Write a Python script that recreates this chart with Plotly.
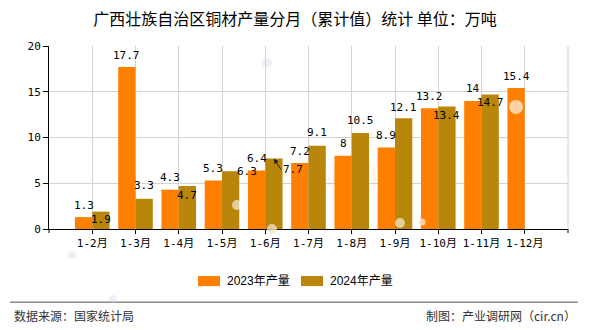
import plotly.graph_objects as go

# Cumulative monthly copper output, Guangxi (10k tonnes)
months = ["1-2月", "1-3月", "1-4月", "1-5月", "1-6月", "1-7月",
          "1-8月", "1-9月", "1-10月", "1-11月", "1-12月"]
output_2023 = [1.3, 17.7, 4.3, 5.3, 6.4, 7.2, 8, 8.9, 13.2, 14, 15.4]
output_2024 = [1.9, 3.3, 4.7, 6.3, 7.7, 9.1, 10.5, 12.1, 13.4, 14.7, None]
y_ticks = [0, 5, 10, 15, 20]

C23 = "#FF8000"
C24 = "#B8860B"
NUM_FONT = dict(family="DejaVu Sans Mono, Noto Sans CJK SC", size=11, color="#000")
CJK = "Noto Sans CJK SC"

fig = go.Figure()
fig.add_bar(x=months, y=output_2023, name="2023年产量", marker_color=C23,
            marker_line_width=0, hoverinfo="skip")
fig.add_bar(x=months, y=output_2024, name="2024年产量", marker_color=C24,
            marker_line_width=0, hoverinfo="skip")

annotations = []
# value labels: 2023 sits above its bar
for i, v in enumerate(output_2023):
    annotations.append(dict(x=i - 0.2, y=v, xref="x", yref="y", text=f"{v:g}",
                            showarrow=False, yanchor="middle", yshift=12,
                            font=NUM_FONT))
# 2024 labels are nudged to avoid collisions with neighbouring labels
shift_2024 = {0: (0, -8), 1: (0, 13), 2: (0, -9), 3: (16, 0),
              5: (0, 13), 6: (0, 12), 7: (0, 11), 8: (0, -9), 9: (0, -8)}
for i, v in enumerate(output_2024):
    if v is None:
        continue
    if i == 4:
        # crowded slot: label pulled aside with a leader arrow
        annotations.append(dict(x=i + 0.2, y=v, xref="x", yref="y", text=f"{v:g}",
                                showarrow=True, ax=7, ay=11, arrowhead=2,
                                arrowsize=1, arrowwidth=1, arrowcolor="#222",
                                standoff=0, xanchor="left", font=NUM_FONT))
        continue
    dx, dy = shift_2024[i]
    annotations.append(dict(x=i + 0.2, y=v, xref="x", yref="y", text=f"{v:g}",
                            showarrow=False, yanchor="middle", xshift=dx, yshift=dy,
                            font=NUM_FONT))

# faint site watermark
annotations.append(dict(x=0.672, y=0.19, xref="paper", yref="paper", text="产业调研网",
                        showarrow=False, font=dict(family=CJK, size=24,
                                                   color="rgba(255,120,0,0.10)")))

# legend drawn by hand
leg_y0, leg_y1 = -0.257, -0.312
shapes = [
    dict(type="rect", xref="paper", yref="paper", x0=0.287, x1=0.3295,
         y0=leg_y1, y1=leg_y0, fillcolor=C23, line_width=0),
    dict(type="rect", xref="paper", yref="paper", x0=0.4855, x1=0.528,
         y0=leg_y1, y1=leg_y0, fillcolor=C24, line_width=0),
]
for xp, label in [(0.339, "2023年产量"), (0.5376, "2024年产量")]:
    annotations.append(dict(x=xp, y=-0.284, xref="paper", yref="paper", text=label,
                            showarrow=False, xanchor="left", yanchor="middle",
                            font=dict(family="Liberation Sans, " + CJK, size=12,
                                      color="#000")))

# right border gridline and end ticks on the category axis
shapes.append(dict(type="line", xref="paper", yref="paper", x0=1, x1=1, y0=0, y1=1,
                   line=dict(color="#d3d3d3", width=1), layer="below"))
for xp in (0, 1):
    shapes.append(dict(type="line", xref="paper", yref="paper", x0=xp, x1=xp,
                       y0=0, y1=-0.022, line=dict(color="#000", width=1)))

# footer rule and source lines
shapes.append(dict(type="line", xref="paper", yref="paper", x0=-0.075, x1=1.019,
                   y0=-0.40, y1=-0.40, line=dict(color="#8a8a8a", width=1.5)))
annotations.append(dict(x=-0.071, y=-0.475, xref="paper", yref="paper",
                        text="数据来源：国家统计局", showarrow=False, xanchor="left",
                        yanchor="middle", font=dict(family=CJK, size=12, color="#333")))
annotations.append(dict(x=1.019, y=-0.475, xref="paper", yref="paper",
                        text="制图：产业调研网（cir.cn）", showarrow=False, xanchor="right",
                        yanchor="middle", font=dict(family=CJK, size=12, color="#333")))

# soft light spots
spots = [(516, 107, 7, "rgba(255,235,215,0.75)"), (272, 229, 5, "rgba(245,230,200,0.75)"),
         (400, 223, 5, "rgba(245,230,200,0.75)"), (422, 222, 3.5, "rgba(255,225,200,0.8)"),
         (237, 205, 5, "rgba(255,255,255,0.6)"), (267, 63, 5, "rgba(210,210,235,0.35)"),
         (72, 255, 4, "rgba(210,210,235,0.35)"), (113, 299, 4, "rgba(210,210,235,0.35)")]
for px, py, r, col in spots:
    shapes.append(dict(type="circle", xref="paper", yref="paper",
                       x0=(px - r - 49) / 519, x1=(px + r - 49) / 519,
                       y0=(229 - py - r) / 183, y1=(229 - py + r) / 183,
                       fillcolor=col, line_width=0, layer="above"))

fig.update_layout(
    width=590, height=330,
    margin=dict(l=49, r=22, t=46, b=101),
    paper_bgcolor="#fff", plot_bgcolor="#fff",
    barmode="group", bargap=0.2, bargroupgap=0,
    showlegend=False,
    title=dict(text="广西壮族自治区铜材产量分月（累计值）统计 单位：万吨",
               x=0.5, xref="container", xanchor="center",
               y=1 - 19 / 330, yanchor="middle",
               font=dict(family=CJK, size=16, color="#000")),
    xaxis=dict(type="category", categoryorder="array", categoryarray=months,
               range=[-1, 11], showgrid=True, gridcolor="#d3d3d3", gridwidth=1,
               showline=True, linecolor="#000", linewidth=1,
               ticks="outside", ticklen=4, tickcolor="#000",
               tickfont=dict(family="DejaVu Sans Mono, " + CJK, size=11, color="#000")),
    yaxis=dict(range=[0, 20], tickvals=y_ticks, showgrid=True, gridcolor="#d3d3d3",
               gridwidth=1, zeroline=False, showline=True, linecolor="#000",
               linewidth=1, ticks="outside", ticklen=5, tickcolor="#000",
               tickfont=dict(family="DejaVu Sans Mono", size=11, color="#000")),
    annotations=annotations,
    shapes=shapes,
)

fig.write_html("out.html")
